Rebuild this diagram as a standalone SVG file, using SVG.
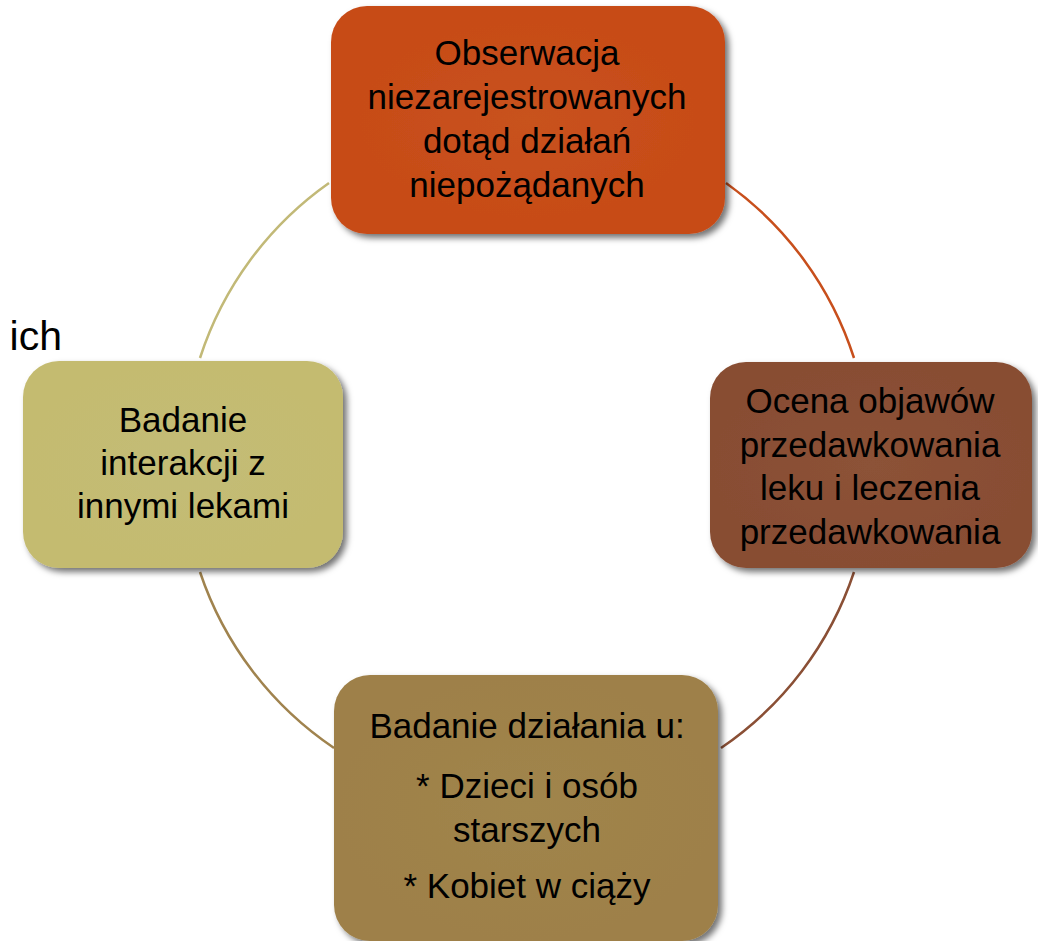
<svg xmlns="http://www.w3.org/2000/svg" width="1038" height="941" viewBox="0 0 1038 941">
<style>
.t{font-family:"Liberation Sans",Arial,sans-serif;font-size:35px;fill:#000;text-anchor:middle}
.arc{fill:none;stroke-width:2.5}
</style>
<defs>
<filter id="sh" x="-10%" y="-10%" width="125%" height="125%">
<feDropShadow dx="4" dy="4" stdDeviation="3" flood-color="#000" flood-opacity="0.55"/>
</filter>
<radialGradient id="g1"><stop offset="0" stop-color="#c8521e"/><stop offset="1" stop-color="#c74b17"/></radialGradient>
<radialGradient id="g2"><stop offset="0" stop-color="#8c5237"/><stop offset="1" stop-color="#884d33"/></radialGradient>
<radialGradient id="g3"><stop offset="0" stop-color="#c3bc76"/><stop offset="1" stop-color="#c4bb70"/></radialGradient>
<radialGradient id="g4"><stop offset="0" stop-color="#a0854c"/><stop offset="1" stop-color="#9e8048"/></radialGradient>
</defs>
<rect width="1038" height="941" fill="#fff"/>
<text x="62" y="350" style="font-family:'Liberation Sans',Arial,sans-serif;font-size:41px;text-anchor:end">ich</text>
<g id="connectors">
<path class="arc" stroke="#c2b977" d="M200 358 A344 344 0 0 1 329 183"/>
<path class="arc" stroke="#c84f1c" d="M726 183 A344 344 0 0 1 854 358"/>
<path class="arc" stroke="#8a4f35" d="M854 572 A344 344 0 0 1 721 748"/>
<path class="arc" stroke="#a0834e" d="M334 748 A344 344 0 0 1 200 572"/>
</g>
<g id="n1">
<rect x="331" y="6" width="394" height="228" rx="36" fill="url(#g1)" filter="url(#sh)"/>
<text class="t" x="527" y="65">Obserwacja</text>
<text class="t" x="527" y="109">niezarejestrowanych</text>
<text class="t" x="527" y="153">dotąd działań</text>
<text class="t" x="527" y="197">niepożądanych</text>
</g>
<g id="n2">
<rect x="710" y="362" width="322" height="206" rx="36" fill="url(#g2)" filter="url(#sh)"/>
<text class="t" x="870" y="413">Ocena objawów</text>
<text class="t" x="870" y="457">przedawkowania</text>
<text class="t" x="870" y="500">leku i leczenia</text>
<text class="t" x="870" y="544">przedawkowania</text>
</g>
<g id="n3">
<rect x="334" y="675" width="384" height="266" rx="36" fill="url(#g4)" filter="url(#sh)"/>
<text class="t" x="527" y="738">Badanie działania u:</text>
<text class="t" x="527" y="798">* Dzieci i osób</text>
<text class="t" x="527" y="842">starszych</text>
<text class="t" x="527" y="898">* Kobiet w ciąży</text>
</g>
<g id="n4">
<rect x="23" y="361" width="320" height="207" rx="36" fill="url(#g3)" filter="url(#sh)"/>
<text class="t" x="183" y="432">Badanie</text>
<text class="t" x="183" y="475">interakcji z</text>
<text class="t" x="183" y="518">innymi lekami</text>
</g>
</svg>
